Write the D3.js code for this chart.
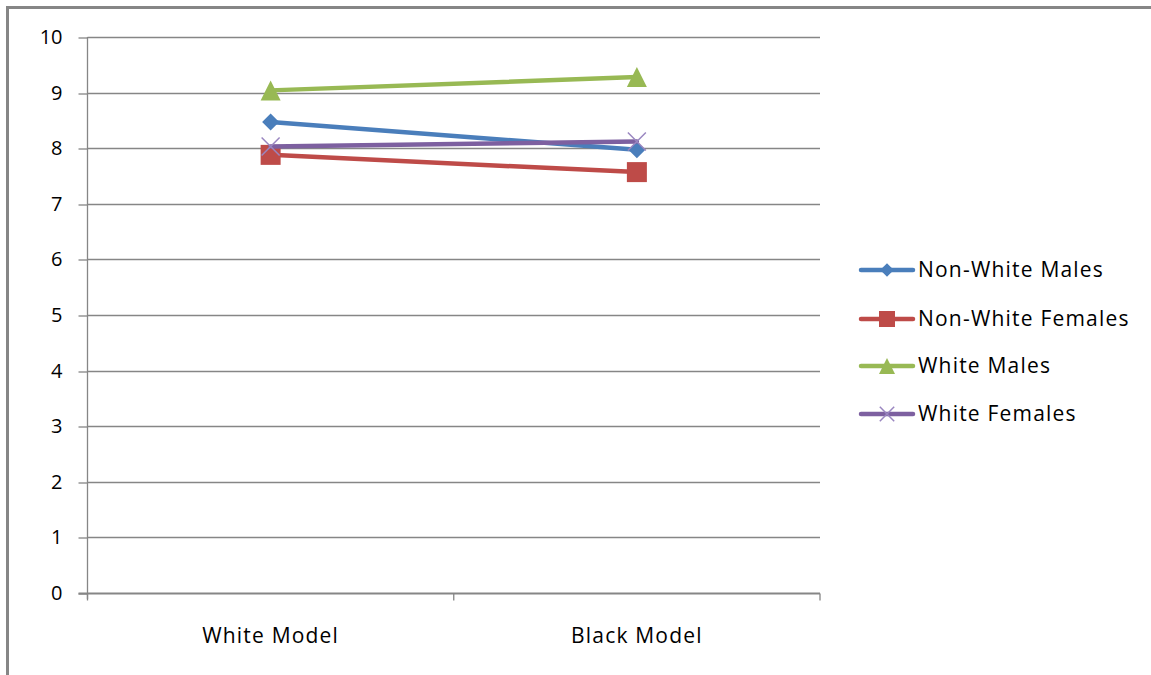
<!DOCTYPE html>
<html>
<head>
<meta charset="utf-8">
<script src="https://cdn.jsdelivr.net/npm/d3@7"></script>
<style>
  html, body { margin: 0; padding: 0; background: #fff; }
  svg { display: block; }
  text { font-family: "Open Sans", "DejaVu Sans", sans-serif; fill: #000; }
</style>
</head>
<body>
<svg id="chart" width="1151" height="675"></svg>
<script>
// Ratings by model shown, per respondent group
const categories = ["White Model", "Black Model"];
const seriesNames = ["Non-White Males", "Non-White Females", "White Males", "White Females"];
const nonWhiteMales = [8.47, 7.97];
const nonWhiteFemales = [7.88, 7.57];
const whiteMales = [9.04, 9.28];
const whiteFemales = [8.03, 8.12];
const yTicks = [0, 1, 2, 3, 4, 5, 6, 7, 8, 9, 10];

const colors = ["#4a7ebb", "#be4b48", "#98b954", "#7d60a0"];
const markers = ["diamond", "square", "triangle", "x"];
const seriesValues = [nonWhiteMales, nonWhiteFemales, whiteMales, whiteFemales];

const svg = d3.select("#chart");

// Outer chart frame (top and left edges visible)
svg.append("line").attr("x1", 7).attr("x2", 1151).attr("y1", 7.5).attr("y2", 7.5)
  .attr("stroke", "#868686").attr("stroke-width", 3);
svg.append("line").attr("x1", 7.5).attr("x2", 7.5).attr("y1", 6).attr("y2", 675)
  .attr("stroke", "#868686").attr("stroke-width", 3);

const plot = { left: 87.5, right: 820, top: 37, bottom: 593 };

const x = d3.scaleBand().domain(categories).range([plot.left, plot.right]);
const y = d3.scaleLinear().domain([0, 10]).range([plot.bottom, plot.top]);

// Horizontal gridlines
svg.append("g").selectAll("line").data(yTicks.filter(d => d > 0)).join("line")
  .attr("x1", plot.left).attr("x2", plot.right)
  .attr("y1", d => Math.round(y(d)) + 0.5).attr("y2", d => Math.round(y(d)) + 0.5)
  .attr("stroke", "#868686").attr("stroke-width", 1.3);

// Y axis
const yAxis = d3.axisLeft(y).tickValues(yTicks).tickSize(9).tickPadding(16).tickFormat(d3.format("d"));
const gy = svg.append("g").attr("transform", `translate(${plot.left},0)`).call(yAxis);
gy.select(".domain").attr("stroke", "#868686").attr("stroke-width", 1.3).attr("d", `M0,${plot.top}V${plot.bottom + 6}`);
gy.selectAll(".tick line").attr("stroke", "#868686").attr("stroke-width", 1.3)
  .attr("transform", d => `translate(0,${Math.round(y(d)) + 0.5 - y(d)})`);
gy.selectAll(".tick text").attr("font-size", 20).attr("font-family", "'Open Sans', sans-serif").attr("fill", "#000");

// X axis with tick marks at band boundaries
const gx = svg.append("g").attr("transform", `translate(0,${plot.bottom + 0.5})`);
gx.append("line").attr("x1", plot.left - 9).attr("x2", plot.right)
  .attr("stroke", "#868686").attr("stroke-width", 2);
const bounds = [plot.left, plot.left + x.bandwidth(), plot.right];
gx.selectAll(".bt").data(bounds).join("line").attr("class", "bt")
  .attr("x1", d => d).attr("x2", d => d).attr("y1", 0).attr("y2", 7)
  .attr("stroke", "#868686").attr("stroke-width", 1.3);
gx.selectAll("text").data(categories).join("text")
  .attr("x", d => x(d) + x.bandwidth() / 2).attr("y", 49)
  .attr("text-anchor", "middle").attr("font-size", 21).attr("letter-spacing", "1.2px").text(d => d);

// Marker drawing helper
function drawMarker(g, type, color, cx, cy, scale) {
  const s = scale || 1;
  if (type === "diamond") {
    const r = 8.5 * s;
    g.append("path").attr("d", `M${cx},${cy - r}L${cx + r},${cy}L${cx},${cy + r}L${cx - r},${cy}Z`).attr("fill", color);
  } else if (type === "square") {
    const h = 10 * s;
    g.append("rect").attr("x", cx - h).attr("y", cy - h).attr("width", 2 * h).attr("height", 2 * h).attr("fill", color);
  } else if (type === "triangle") {
    const h = 10 * s;
    g.append("path").attr("d", `M${cx},${cy - h}L${cx + h},${cy + h}L${cx - h},${cy + h}Z`).attr("fill", color);
  } else if (type === "x") {
    const h = 9 * s;
    g.append("path").attr("d", `M${cx - h},${cy - h}L${cx + h},${cy + h}M${cx - h},${cy + h}L${cx + h},${cy - h}`)
      .attr("stroke", "#9a86c0").attr("stroke-width", 1.5).attr("fill", "none");
  }
}

// Series lines and markers
const line = d3.line().x((d, i) => x(categories[i]) + x.bandwidth() / 2).y(d => y(d));
seriesValues.forEach((vals, si) => {
  const g = svg.append("g");
  g.append("path").datum(vals).attr("d", line).attr("fill", "none")
    .attr("stroke", colors[si]).attr("stroke-width", 4.5).attr("stroke-linecap", "round");
  vals.forEach((v, i) => drawMarker(g, markers[si], colors[si], x(categories[i]) + x.bandwidth() / 2, y(v)));
});

// Legend
const legend = svg.append("g");
const legendY = [270, 319, 366, 414];
seriesNames.forEach((name, i) => {
  const g = legend.append("g").attr("transform", `translate(0,${legendY[i]})`);
  g.append("line").attr("x1", 861).attr("x2", 913).attr("y1", 0).attr("y2", 0)
    .attr("stroke", colors[i]).attr("stroke-width", 4.5).attr("stroke-linecap", "round");
  drawMarker(g, markers[i], colors[i], 887, 0, 0.8);
  g.append("text").attr("x", 918).attr("y", 0).attr("dy", "0.35em").attr("font-size", 21)
    .attr("letter-spacing", "1.2px").text(name);
});
</script>
</body>
</html>
